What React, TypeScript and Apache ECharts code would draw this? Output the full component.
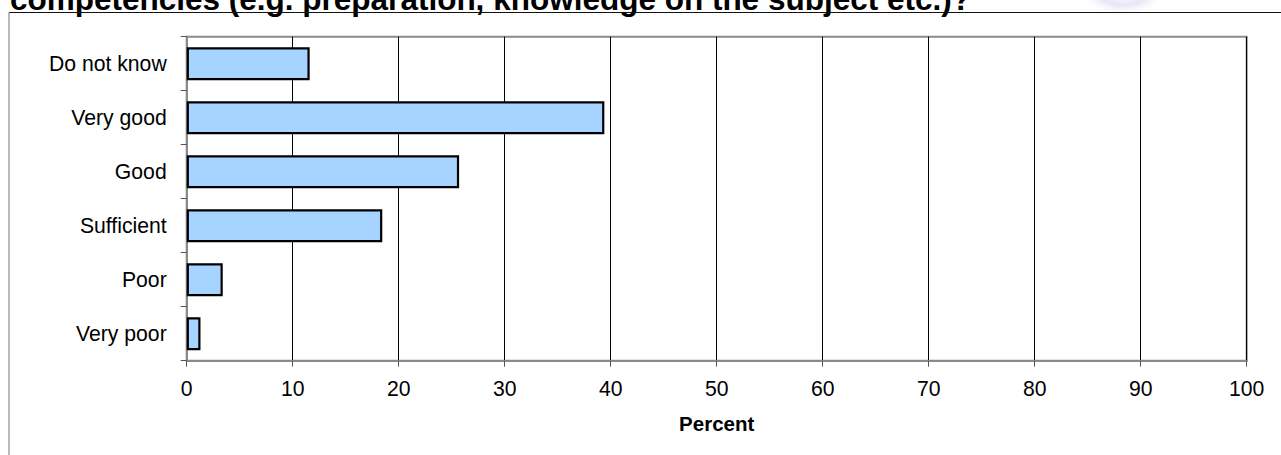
import React, { useEffect, useRef } from "react";
import * as echarts from "echarts";

const categories = ["Do not know", "Very good", "Good", "Sufficient", "Poor", "Very poor"];
const percentValues = [11.6, 39.4, 25.7, 18.45, 3.4, 1.3];
const xTicks = { min: 0, max: 100, interval: 10 };
const titleText = "competencies (e.g. preparation, knowledge on the subject etc.)?";
const axisName = "Percent";

export default function App() {
  const ref = useRef<HTMLDivElement>(null);
  useEffect(() => {
    if (!ref.current) return;
    const chart = echarts.init(ref.current, null, { renderer: "svg" });
    const font = "'Liberation Sans', Arial, sans-serif";
    chart.setOption({
      animation: false,
      backgroundColor: "#ffffff",
      grid: {
        left: 186.7,
        right: 34.3,
        top: 36.7,
        bottom: 94.3,
        show: true,
        borderColor: "#8a8a8a",
        borderWidth: 2,
        backgroundColor: "transparent",
      },
      xAxis: {
        type: "value",
        min: xTicks.min,
        max: xTicks.max,
        interval: xTicks.interval,
        name: axisName,
        nameLocation: "middle",
        nameGap: 52,
        nameTextStyle: { fontFamily: font, fontSize: 20.5, fontWeight: "bold", color: "#000" },
        axisLine: { show: true, lineStyle: { color: "#8a8a8a", width: 2 } },
        axisTick: { show: true, length: 6, lineStyle: { color: "#555", width: 1 } },
        axisLabel: { margin: 17, fontFamily: font, fontSize: 21.2, color: "#000" },
        splitLine: { show: true, lineStyle: { color: "#000", width: 1 } },
      },
      yAxis: {
        type: "category",
        data: categories,
        inverse: true,
        axisLine: { show: true, lineStyle: { color: "#8a8a8a", width: 2 } },
        axisTick: { show: true, length: 6, alignWithLabel: false, lineStyle: { color: "#555", width: 1 } },
        axisLabel: { margin: 20, fontFamily: font, fontSize: 21.2, color: "#000" },
        splitLine: { show: false },
      },
      series: [
        {
          type: "bar",
          data: percentValues,
          barWidth: 33,
          itemStyle: { color: "#a6d3ff", borderColor: "#000", borderWidth: 2.2 },
          z: 3,
        },
      ],
      graphic: [
        {
          type: "ellipse",
          shape: { cx: 1123, cy: -8, rx: 40, ry: 22 },
          style: {
            fill: new echarts.graphic.RadialGradient(0.5, 0.5, 0.5, [
              { offset: 0, color: "rgba(205,205,240,0.0)" },
              { offset: 0.6, color: "rgba(200,200,238,0.45)" },
              { offset: 1, color: "rgba(220,220,245,0)" },
            ]),
          },
          silent: true,
        },
        {
          type: "ellipse",
          shape: { cx: 175, cy: -2, rx: 22, ry: 14 },
          style: {
            fill: new echarts.graphic.RadialGradient(0.5, 0.5, 0.5, [
              { offset: 0, color: "rgba(215,215,245,0.5)" },
              { offset: 1, color: "rgba(230,230,250,0)" },
            ]),
          },
          silent: true,
        },
        {
          type: "text",
          x: 10,
          y: -1.2,
          style: {
            text: titleText,
            fontFamily: font,
            fontSize: 31.5,
            fontWeight: "bold",
            fill: "#000",
            textAlign: "left",
            textVerticalAlign: "middle",
          },
        },
        {
          type: "line",
          shape: { x1: 9, y1: 12.5, x2: 1281, y2: 12.5 },
          style: { stroke: "#111", lineWidth: 1 },
        },
        {
          type: "line",
          shape: { x1: 9, y1: 12.5, x2: 9, y2: 455 },
          style: { stroke: "#8a8a8a", lineWidth: 1.2 },
        },
      ],
    });
    return () => chart.dispose();
  }, []);
  return (
    <div
      ref={ref}
      style={{ position: "absolute", left: 0, top: 0, width: 1281, height: 455 }}
    />
  );
}
